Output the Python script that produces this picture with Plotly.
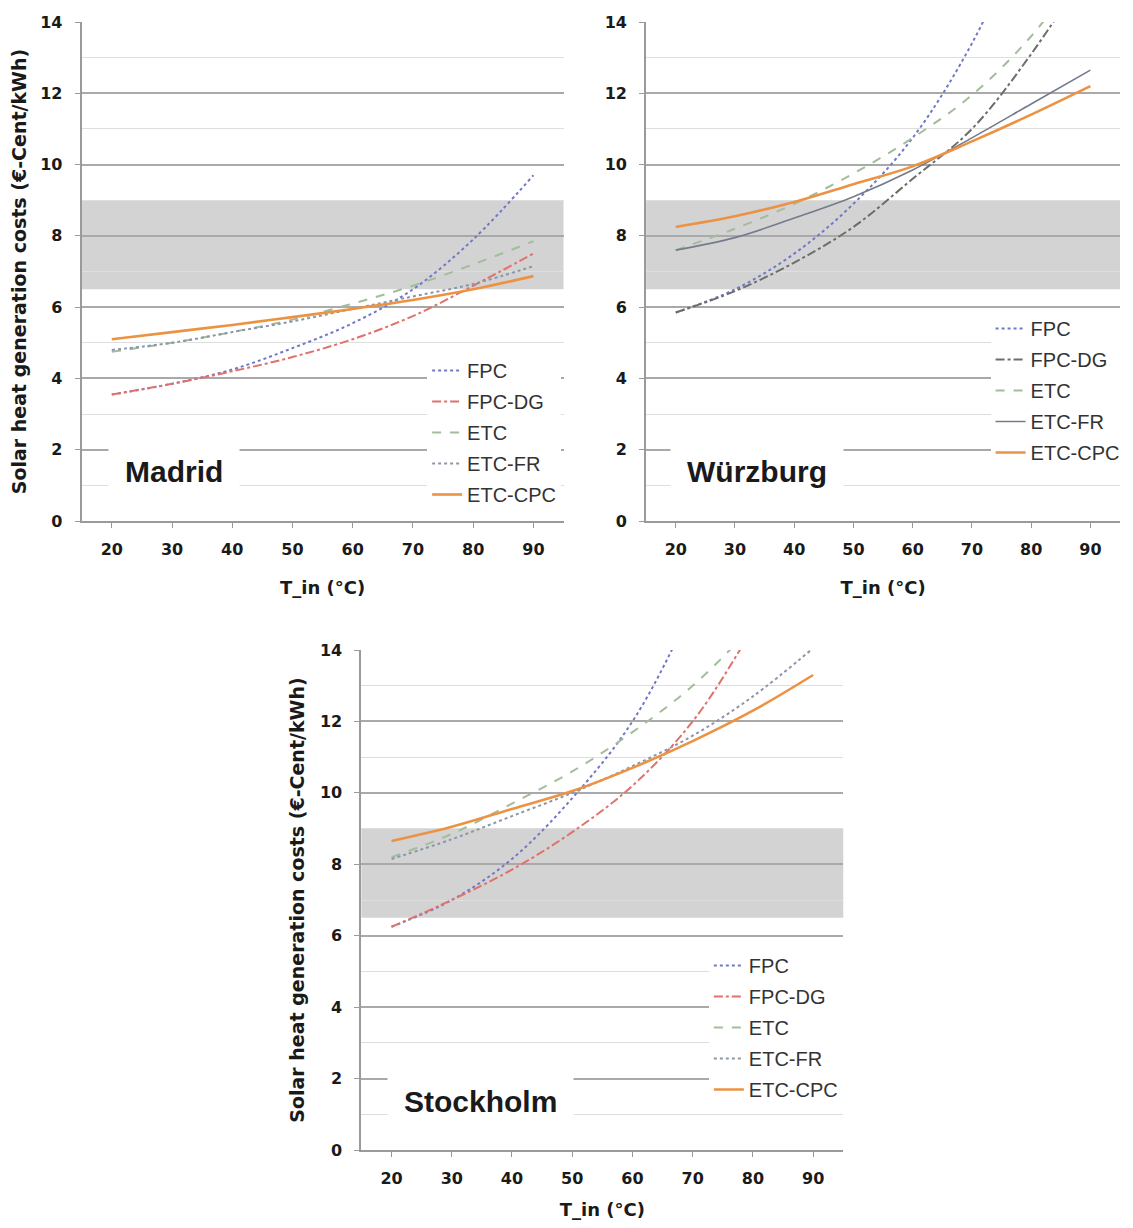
import plotly.graph_objects as go

# ---------------- data ----------------
T_IN = [20, 30, 40, 50, 60, 70, 80, 90]
SERIES = ["FPC", "FPC-DG", "ETC", "ETC-FR", "ETC-CPC"]
CITIES = ["Madrid", "Würzburg", "Stockholm"]

madrid_fpc = [3.55, 3.85, 4.25, 4.85, 5.55, 6.5, 7.9, 9.7]
madrid_fpc_dg = [3.55, 3.85, 4.2, 4.6, 5.1, 5.75, 6.6, 7.5]
madrid_etc = [4.75, 5.0, 5.3, 5.65, 6.1, 6.6, 7.2, 7.85]
madrid_etc_fr = [4.8, 5.0, 5.3, 5.6, 5.95, 6.3, 6.65, 7.15]
madrid_etc_cpc = [5.1, 5.3, 5.5, 5.72, 5.95, 6.2, 6.5, 6.87]

wuerzburg_fpc = [5.85, 6.5, 7.5, 8.9, 10.75, 13.4, 17.0, 21.0]
wuerzburg_fpc_dg = [5.85, 6.45, 7.25, 8.25, 9.6, 11.0, 13.1, 15.6]
wuerzburg_etc = [7.6, 8.2, 8.9, 9.75, 10.75, 11.95, 13.6, 15.8]
wuerzburg_etc_fr = [7.6, 7.95, 8.5, 9.1, 9.85, 10.75, 11.7, 12.65]
wuerzburg_etc_cpc = [8.25, 8.55, 8.95, 9.45, 9.95, 10.65, 11.4, 12.2]

stockholm_fpc = [6.25, 7.0, 8.15, 9.85, 12.0, 15.2, 19.0, 24.0]
stockholm_fpc_dg = [6.25, 7.0, 7.85, 8.9, 10.2, 12.0, 14.6, 17.5]
stockholm_etc = [8.2, 8.85, 9.7, 10.6, 11.7, 13.0, 14.7, 16.8]
stockholm_etc_fr = [8.15, 8.7, 9.35, 10.0, 10.75, 11.6, 12.7, 14.05]
stockholm_etc_cpc = [8.65, 9.05, 9.55, 10.05, 10.7, 11.45, 12.3, 13.3]

CITY_DATA = {
    "Madrid": [madrid_fpc, madrid_fpc_dg, madrid_etc, madrid_etc_fr, madrid_etc_cpc],
    "Würzburg": [wuerzburg_fpc, wuerzburg_fpc_dg, wuerzburg_etc, wuerzburg_etc_fr, wuerzburg_etc_cpc],
    "Stockholm": [stockholm_fpc, stockholm_fpc_dg, stockholm_etc, stockholm_etc_fr, stockholm_etc_cpc],
}

BAND = [6.5, 9.0]          # grey reference band (€-Cent/kWh)
Y_TICKS = [0, 2, 4, 6, 8, 10, 12, 14]
X_TICKS = [20, 30, 40, 50, 60, 70, 80, 90]
Y_TITLE = "Solar heat generation costs (€-Cent/kWh)"
X_TITLE = "T_in (°C)"

# ---------------- styling ----------------
PAGE_OFF = 8               # default body margin of the html page
W, H = 1133 - 2 * PAGE_OFF, 1228 - 2 * PAGE_OFF
FONT = "Liberation Sans, Arial, sans-serif"
TICKFONT = "DejaVu Sans, Verdana, sans-serif"


def fx(p):
    return min(1.0, max(0.0, (p - PAGE_OFF) / W))


def fy(p):
    return min(1.0, max(0.0, 1 - (p - PAGE_OFF) / H))


# pixel boxes (page coordinates) of the three plot areas
PANELS = {
    "Madrid": dict(x0=82, x1=566, y0=22, y1=521, ytitle=True,
                   label=(175, 472), legend=(429, 351), ewidth=104),
    "Würzburg": dict(x0=649, x1=1131, y0=22, y1=521, ytitle=False,
                     label=(760, 472), legend=(995, 309), ewidth=92),
    "Stockholm": dict(x0=363, x1=847, y0=650, y1=1150, ytitle=True,
                      label=(483, 1101), legend=(712, 946), ewidth=104),
}

STYLE = {
    "FPC": dict(color="#6f78c8", dash="dot", width=2),
    "FPC-DG": dict(color="#e0716b", dash="dashdot", width=2),
    "ETC": dict(color="#a3bd9c", dash="dash", width=2),
    "ETC-FR": dict(color="#8c95aa", dash="dot", width=2),
    "ETC-CPC": dict(color="#ec9343", dash="solid", width=2.6),
}
OVERRIDE = {
    "Würzburg": {
        "FPC-DG": dict(color="#6d6d6d", dash="dashdot", width=2),
        "ETC-FR": dict(color="#737b8c", dash="solid", width=1.6),
    }
}

fig = go.Figure()

for i, city in enumerate(CITIES):
    k = "" if i == 0 else str(i + 1)
    leg = "legend" if i == 0 else f"legend{i + 1}"
    for s, vals in zip(SERIES, CITY_DATA[city]):
        st = OVERRIDE.get(city, {}).get(s, STYLE[s])
        fig.add_trace(go.Scatter(
            x=T_IN, y=vals, name=s, mode="lines",
            line=dict(color=st["color"], dash=st["dash"], width=st["width"],
                      shape="spline", smoothing=1.0),
            xaxis="x" + k, yaxis="y" + k, legend=leg,
            legendgroup=f"{city}-{s}", showlegend=True,
        ))

layout = dict(
    width=W, height=H,
    margin=dict(l=0, r=0, t=0, b=0),
    paper_bgcolor="white", plot_bgcolor="white",
    font=dict(family=FONT, color="#1a1a1a"),
    shapes=[], annotations=[],
)

for i, city in enumerate(CITIES):
    p = PANELS[city]
    k = "" if i == 0 else str(i + 1)
    xa, ya = "xaxis" + k, "yaxis" + k
    layout[xa] = dict(
        domain=[fx(p["x0"]), fx(p["x1"])], anchor="y" + k,
        range=[15, 95], tickvals=X_TICKS,
        showgrid=False, zeroline=False,
        showline=True, linecolor="#9a9a9a", linewidth=2,
        ticks="outside", ticklen=5, tickcolor="#9a9a9a",
        ticklabelstandoff=8,
        tickfont=dict(family=TICKFONT, size=16, color="#1a1a1a", weight="bold"),
        title=dict(text=X_TITLE, standoff=23,
                   font=dict(family=TICKFONT, size=18, color="#1a1a1a", weight="bold")),
        automargin=False,
    )
    layout[ya] = dict(
        domain=[fy(p["y1"]), fy(p["y0"])], anchor="x" + k,
        range=[0, 14], tickvals=Y_TICKS,
        showgrid=True, gridcolor="#a9a9a9", gridwidth=2,
        minor=dict(dtick=1, showgrid=True, gridcolor="#dedede", gridwidth=1,
                   ticks=""),
        zeroline=False,
        showline=True, linecolor="#9a9a9a", linewidth=2,
        ticks="outside", ticklen=5, tickcolor="#9a9a9a",
        ticklabelstandoff=9,
        tickfont=dict(family=TICKFONT, size=16, color="#1a1a1a", weight="bold"),
        title=dict(text=Y_TITLE if p["ytitle"] else "", standoff=10,
                   font=dict(family=TICKFONT, size=19, color="#1a1a1a", weight="bold")),
        automargin=False,
    )
    # grey band
    layout["shapes"].append(dict(
        type="rect", xref=f"x{k} domain", yref="y" + k,
        x0=0, x1=1, y0=BAND[0], y1=BAND[1],
        fillcolor="#d3d3d3", line=dict(width=0), layer="below",
    ))
    # city label
    lx, ly = p["label"]
    layout["annotations"].append(dict(
        text=f"<b>{city}</b>", xref="paper", yref="paper",
        x=fx(lx), y=fy(ly), xanchor="center", yanchor="middle",
        showarrow=False, bgcolor="white", borderpad=16,
        font=dict(family=FONT, size=30, color="#1a1a1a"),
    ))
    # legend
    gx, gy = p["legend"]
    leg = "legend" if i == 0 else f"legend{i + 1}"
    layout[leg] = dict(
        x=fx(gx), y=fy(gy), xanchor="left", yanchor="top",
        xref="paper", yref="paper",
        bgcolor="white", borderwidth=0,
        font=dict(family=FONT, size=20, color="#333333"),
        traceorder="grouped", tracegroupgap=2, itemwidth=30,
        entrywidth=p["ewidth"], entrywidthmode="pixels",
    )

fig.update_layout(**layout)
fig.write_html("out.html")
